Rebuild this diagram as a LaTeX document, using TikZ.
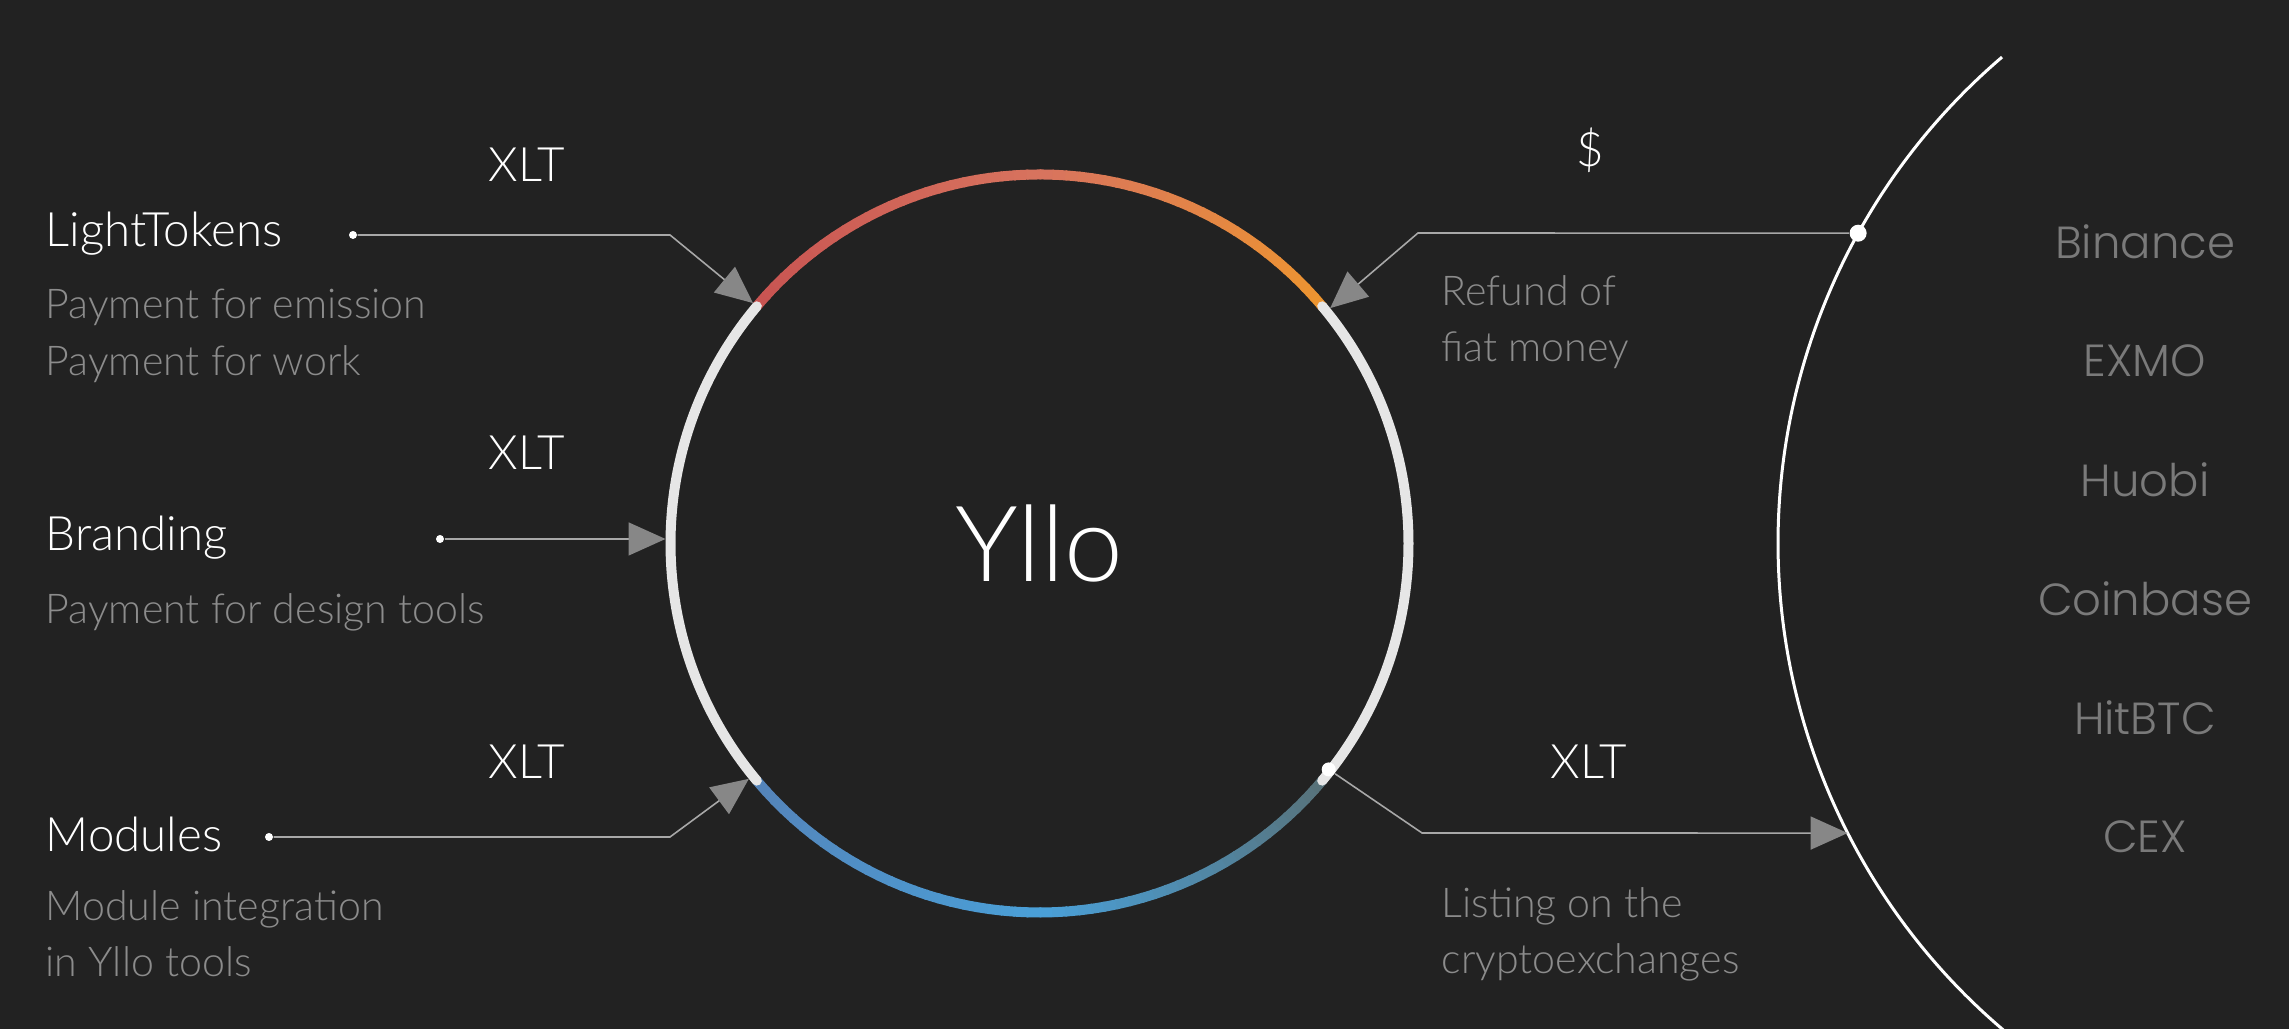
\documentclass[tikz,border=0pt]{standalone}
\usepackage{fontspec}
\setmainfont{Lato Light}
\newfontfamily\exchfont{Poppins Light}
\usetikzlibrary{arrows.meta, calc}

\definecolor{bgdark}{HTML}{222222}
\definecolor{ringred}{RGB}{200,84,82}
\definecolor{ringsalmon}{RGB}{216,116,94}
\definecolor{ringorange}{RGB}{238,150,46}
\definecolor{ringblue}{RGB}{84,132,186}
\definecolor{ringsky}{RGB}{74,160,216}
\definecolor{ringslate}{RGB}{88,112,118}
\definecolor{ringwhite}{HTML}{E6E6E6}
\definecolor{linkgray}{HTML}{A8A8A8}
\definecolor{tipgray}{HTML}{878787}
\definecolor{descgray}{HTML}{8C8C8C}
\definecolor{exchgray}{HTML}{7A7A7A}

\begin{document}
\begin{tikzpicture}[
    every node/.append style = {font=\fontsize{13.5}{16}\selectfont, text=white},
    title/.style = {anchor=west, inner sep=0pt},
    desc/.style = {anchor=west, inner sep=0pt, align=left, text=descgray,
      font=\fontsize{11.7}{16}\selectfont},
    token/.style = {inner sep=0pt},
    exch/.style = {inner sep=0pt, text=exchgray,
      font=\exchfont\fontsize{12.8}{16}\selectfont},
    dot/.style = {circle, fill=white, inner sep=0pt, minimum size=0.08cm},
    link/.style = {draw=linkgray, line width=0.45pt,
      -{Triangle[length=0.37cm, width=0.33cm, color=tipgray]}}
  ]
  \fill[bgdark] (0,0) rectangle (22.89,10.29);
  \useasboundingbox (0,0) rectangle (22.89,10.29);

  \node[circle, minimum size=7.48cm, inner sep=0pt, outer sep=0pt,
    font=\fontsize{30}{34}\selectfont] (yllo) at (10.395,4.855) {Yllo};
  \foreach \s/\dir/\c/\d in {140/-1/ringred/ringsalmon, 90/-1/ringsalmon/ringorange,
      220/1/ringblue/ringsky, 270/1/ringsky/ringslate} {
    \foreach \i in {0,...,24} {
      \pgfmathtruncatemacro\p{4*\i}
      \draw[draw=\d!\p!\c, line width=0.1cm] (yllo.center) ++(\s+\dir*2*\i:3.69)
        arc[start angle=\s+\dir*2*\i, delta angle=\dir*2.3, radius=3.69];
    }
  }
  \draw[ringwhite, line width=0.1cm, line cap=round] (yllo.center) ++(140:3.69)
    arc[start angle=140, end angle=220, radius=3.69];
  \draw[ringwhite, line width=0.1cm, line cap=round] (yllo.center) ++(-40:3.69)
    arc[start angle=-40, end angle=40, radius=3.69];

  \node[circle, minimum size=12.78cm, inner sep=0pt, outer sep=0pt] (cex) at (24.17,4.86) {};
  \draw[white, line width=0.03cm] (cex.center) ++(130.5:6.39)
    arc[start angle=130.5, end angle=230, radius=6.39];

  \node[title] (lt) at (0.45,7.95) {LightTokens};
  \node[desc] (lt desc) at (0.45,6.93) {Payment for emission\\Payment for work};
  \node[title] (br) at (0.45,4.91) {Branding};
  \node[desc] (br desc) at (0.45,4.17) {Payment for design tools};
  \node[title] (md) at (0.45,1.95) {Modules};
  \node[desc] (md desc) at (0.45,0.95) {Module integration\\in Yllo tools};

  \node[token] (xlt lt) at (5.27,8.64) {XLT};
  \node[token] (xlt br) at (5.27,5.76) {XLT};
  \node[token] (xlt md) at (5.27,2.67) {XLT};
  \node[token] (usd) at (15.90,8.79) {\$};
  \node[token] (xlt cex) at (15.89,2.67) {XLT};
  \node[desc] (usd desc) at (14.41,7.07) {Refund of\\fiat money};
  \node[desc] (xlt desc) at (14.41,0.95) {Listing on the\\cryptoexchanges};

  \foreach \name [count=\i from 0] in {Binance, EXMO, Huobi, Coinbase, HitBTC, CEX}
    \node[exch] (ex \i) at (21.45,7.87-1.19*\i) {\name};

  \node[dot] (lt dot) at (3.53,7.94) {};
  \coordinate (lt bend) at (6.70,7.94);
  \draw[link] (lt dot) -- (lt bend) -- (yllo.140);
  \node[dot] (br dot) at (4.40,4.90) {};
  \draw[link] (br dot) -- (br dot -| yllo.west);
  \node[dot] (md dot) at (2.69,1.92) {};
  \coordinate (md bend) at (6.70,1.92);
  \draw[link] (md dot) -- (md bend) -- (yllo.219);

  \node[dot, minimum size=0.17cm] (usd dot) at (cex.151) {};
  \coordinate (usd bend) at (14.18,7.96);
  \draw[link] (usd dot) -- (usd bend) -- (yllo.39);
  \node[dot, minimum size=0.14cm] (xlt dot) at ($(yllo.center)+(-38:3.67)$) {};
  \coordinate (xlt bend) at (14.22,1.96);
  \draw[link] (xlt dot) -- (xlt bend) -- (cex.207);
\end{tikzpicture}
\end{document}
